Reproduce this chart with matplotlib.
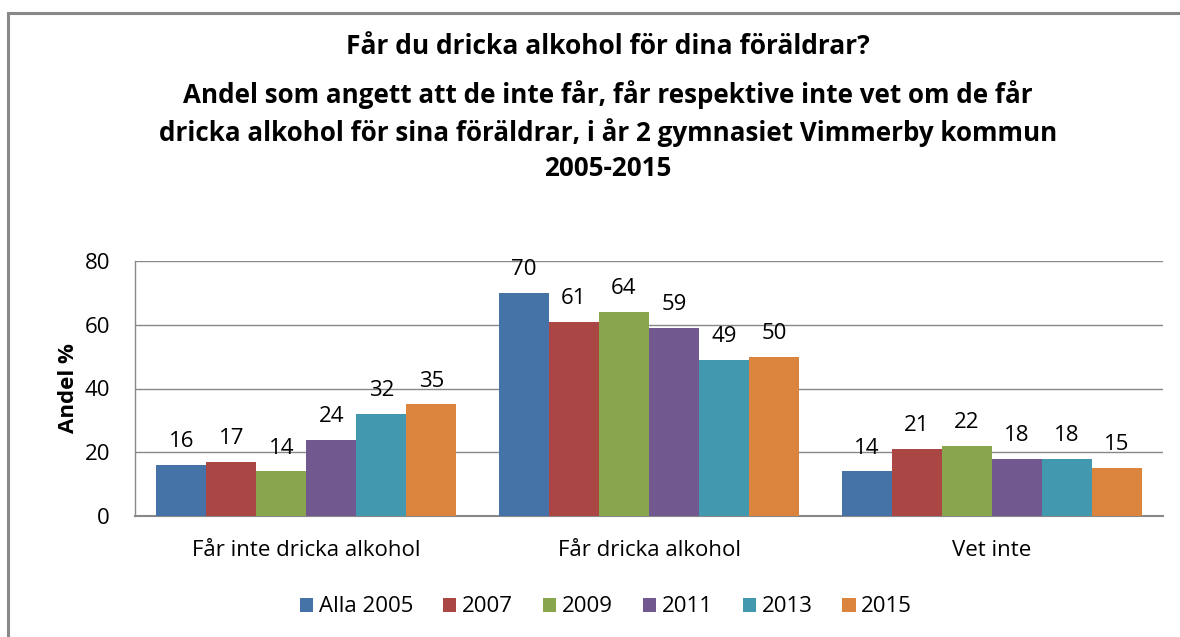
import matplotlib.pyplot as plt
import numpy as np
from matplotlib.patches import Rectangle

categories = ['Får inte dricka alkohol', 'Får dricka alkohol', 'Vet inte']
series = ['Alla 2005', '2007', '2009', '2011', '2013', '2015']
values = {
    'Alla 2005': [16, 70, 14],
    '2007': [17, 61, 21],
    '2009': [14, 64, 22],
    '2011': [24, 59, 18],
    '2013': [32, 49, 18],
    '2015': [35, 50, 15],
}
colors = ['#4572A7', '#AA4643', '#89A54E', '#71588F', '#4198AF', '#DB843D']
title1 = 'Får du dricka alkohol för dina föräldrar?'
title2 = ('Andel som angett att de inte får, får respektive inte vet om de får\n'
          'dricka alkohol för sina föräldrar, i år 2 gymnasiet Vimmerby kommun\n'
          '2005-2015')

plt.rcParams['font.family'] = ['Open Sans', 'DejaVu Sans']

fig = plt.figure(figsize=(11.8, 6.37), dpi=100)
ax = fig.add_axes([135/1180, 1-516/637, (1163-135)/1180, (516-261)/637])

# outer chart border
fig.patches.append(Rectangle((8/1180, -0.1), 1.2, 1.1 - 13/637, transform=fig.transFigure,
                             fill=False, edgecolor='#888888', linewidth=2.2))

x = np.arange(len(categories))
w = 0.146
fs = 16
for i, s in enumerate(series):
    pos = x + (i - 2.5) * w
    ax.bar(pos, values[s], width=w, color=colors[i], label=s, zorder=3)
    for p, v in zip(pos, values[s]):
        ax.text(p, v + 4, str(v), ha='center', va='bottom', fontsize=fs)

ax.set_xlim(-0.5, 2.5)
ax.set_ylim(0, 80)
ax.set_yticks([0, 20, 40, 60, 80])
ax.set_xticks(x)
ax.set_xticklabels(categories, fontsize=fs)
ax.tick_params(axis='y', labelsize=fs, length=0, pad=18)
ax.tick_params(axis='x', length=0, pad=17)
ax.grid(axis='y', color='#888888', linewidth=1, zorder=0)
for sp in ['top', 'right']:
    ax.spines[sp].set_visible(False)
ax.spines['left'].set_color('#888888')
ax.spines['bottom'].set_color('#888888')
ax.spines['left'].set_linewidth(1)
ax.spines['bottom'].set_linewidth(1.5)
ax.set_ylabel('Andel %', fontsize=fs, fontweight='bold', labelpad=4)

fig.text(608/1180, 1-47/637, title1, ha='center', va='center', fontsize=19, fontweight='bold')
fig.text(608/1180, 1-131/637, title2, ha='center', va='center', fontsize=18.7, fontweight='bold',
         linespacing=1.4)

fig.legend(loc='center', bbox_to_anchor=(606/1180, 1-607/637), ncol=6, frameon=False,
           fontsize=fs, handlelength=0.6, handleheight=0.6, handletextpad=0.25,
           columnspacing=1.35)

fig.savefig('out.png', dpi=100)
